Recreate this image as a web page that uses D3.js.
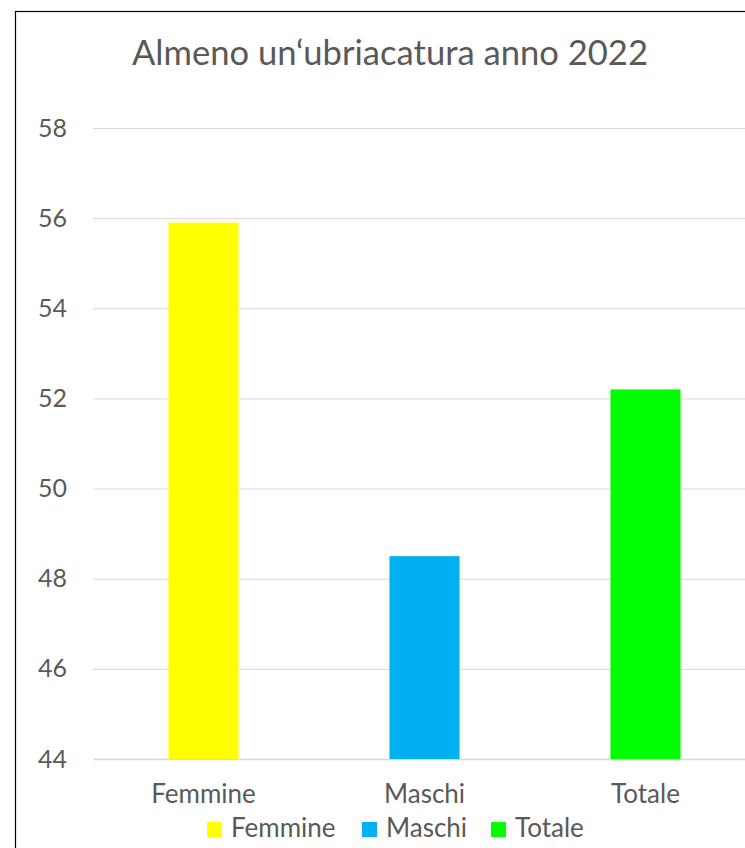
<!DOCTYPE html>
<html>
<head>
<meta charset="utf-8">
<script src="https://cdn.jsdelivr.net/npm/d3@7"></script>
<style>
  html, body { margin: 0; padding: 0; background: #fff; }
  svg { display: block; }
  text { font-family: Lato, "Open Sans", sans-serif; fill: #595959; }
</style>
</head>
<body>
<svg id="chart" width="745" height="848"></svg>
<script>
// Data
const categories = ["Femmine", "Maschi", "Totale"];
const values = [55.9, 48.5, 52.2];
const colors = ["#ffff00", "#00b0f0", "#00ff00"];
const yTicks = [44, 46, 48, 50, 52, 54, 56, 58];
const title = "Almeno un\u2018ubriacatura anno 2022";

const svg = d3.select("#chart");

// Chart frame
svg.append("rect")
  .attr("x", 15.5).attr("y", 11.5)
  .attr("width", 760).attr("height", 860)
  .attr("fill", "#fff")
  .attr("stroke", "#000").attr("stroke-width", 1.2);

const plot = { left: 93, right: 756, top: 128, bottom: 759 };

const x = d3.scaleBand()
  .domain(categories)
  .range([plot.left, plot.right])
  .paddingInner(0.683)
  .paddingOuter(0.3415);

const y = d3.scaleLinear()
  .domain([44, 58])
  .range([plot.bottom, plot.top]);

// Title
svg.append("text")
  .attr("x", 390).attr("y", 65)
  .attr("text-anchor", "middle")
  .style("font-size", "34.6px")
  .text(title);

// Gridlines + y labels
const yAxis = d3.axisLeft(y)
  .tickValues(yTicks)
  .tickFormat(d3.format("d"))
  .tickSize(-(plot.right - plot.left))
  .tickPadding(26);

const gy = svg.append("g")
  .attr("transform", `translate(${plot.left},0)`)
  .call(yAxis);
gy.select(".domain").remove();
gy.selectAll(".tick line")
  .attr("stroke", "#d9d9d9")
  .attr("stroke-width", d => d === 44 ? 1.4 : 1);
gy.selectAll(".tick text")
  .attr("fill", "#595959")
  .style("font-size", "25px")
  .style("font-family", "Lato, sans-serif");

// Bars
svg.append("g").selectAll("rect")
  .data(values)
  .join("rect")
  .attr("x", (d, i) => x(categories[i]))
  .attr("width", x.bandwidth())
  .attr("y", d => y(d))
  .attr("height", d => y(44) - y(d))
  .attr("fill", (d, i) => colors[i]);

// Category labels
const xAxis = d3.axisBottom(x).tickSize(0).tickPadding(26);
const gx = svg.append("g")
  .attr("transform", `translate(0,${plot.bottom})`)
  .call(xAxis);
gx.select(".domain").remove();
gx.selectAll(".tick text")
  .attr("fill", "#595959")
  .style("font-size", "26px")
  .style("font-family", "Lato, sans-serif");

// Legend
const legendX = [207, 362, 491];
const legend = svg.append("g").selectAll("g")
  .data(categories)
  .join("g")
  .attr("transform", (d, i) => `translate(${legendX[i]},822)`);
legend.append("rect")
  .attr("width", 15).attr("height", 15)
  .attr("fill", (d, i) => colors[i]);
legend.append("text")
  .attr("x", 24).attr("y", 15)
  .style("font-size", "26px")
  .text(d => d);
</script>
</body>
</html>
